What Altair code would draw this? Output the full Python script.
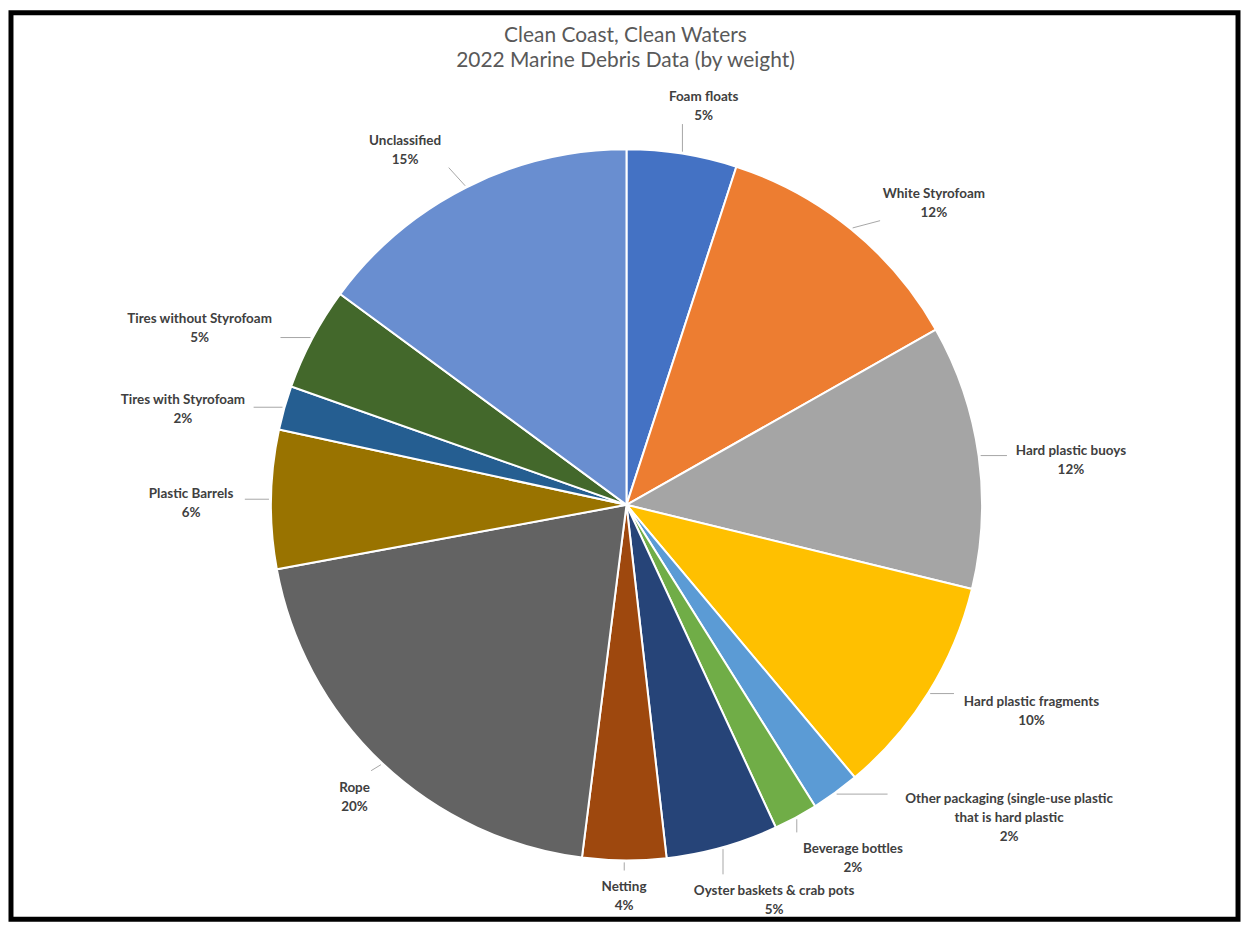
import math
import textwrap
import altair as alt
import pandas as pd

# ---------------- data ----------------
TITLE_LINES = ["Clean Coast, Clean Waters", "2022 Marine Debris Data (by weight)"]

CATEGORIES = [
    "Foam floats",
    "White Styrofoam",
    "Hard plastic buoys",
    "Hard plastic fragments",
    "Other packaging (single-use plastic that is hard plastic",
    "Beverage bottles",
    "Oyster baskets & crab pots",
    "Netting",
    "Rope",
    "Plastic Barrels",
    "Tires with Styrofoam",
    "Tires without Styrofoam",
    "Unclassified",
]
VALUES = [5.0, 11.8, 12.0, 10.1, 2.2, 2.0, 5.1, 3.8, 20.1, 6.3, 2.0, 4.7, 14.9]
COLORS = ["#4472C4", "#ED7D31", "#A5A5A5", "#FFC000", "#5B9BD5", "#70AD47",
          "#264478", "#9E480E", "#636363", "#997300", "#255E91", "#43682B", "#698ED0"]

# ---------------- layout constants ----------------
W, H = 1232, 910          # plot area
CX, CY = 618, 494         # pie centre inside plot area
R = 357                   # pie radius
CHAR_W = 6.8              # estimated label char width
LINE_H = 19               # label line height
SPREAD = 6                # degrees labels lean toward the sides

total = sum(VALUES)
mids = []
acc = 0.0
for v in VALUES:
    mids.append((acc + v / 2) / total * 360.0)
    acc += v

label_lines = []
for c, v in zip(CATEGORIES, VALUES):
    label_lines.append(textwrap.wrap(c, 35) + [f"{round(v / total * 100)}%"])
half_w = [max(len(s) for s in ls) * CHAR_W / 2 for ls in label_lines]
half_h = [len(ls) * LINE_H / 2 for ls in label_lines]


def centre(theta, a, b):
    t = math.radians(theta)
    s, c = math.sin(t), math.cos(t)
    gap = 386 - 16 * max(0.0, -c)      # distance from centre to label's near edge
    r = gap + a * abs(s) + b * abs(c)
    return r * s, -r * c      # dx right, dy down


def overlap(p, q, m=3):
    return not (p[2] + m < q[0] or q[2] + m < p[0] or p[3] + m < q[1] or q[3] + m < p[1])


n = len(VALUES)
boxes = [None] * n
centres = [None] * n
right = sorted([i for i in range(n) if mids[i] < 180], key=lambda i: -mids[i])
left = sorted([i for i in range(n) if mids[i] >= 180], key=lambda i: mids[i])
placed = []
for order, step in ((right, -0.5), (left, 0.5)):
    for i in order:
        th = mids[i]
        if math.cos(math.radians(th)) > -0.6:
            th += SPREAD * math.sin(math.radians(2 * th))
        for _ in range(300):
            x, y = centre(th, half_w[i], half_h[i])
            box = (x - half_w[i], y - half_h[i], x + half_w[i], y + half_h[i])
            ok = (box[3] <= H - CY - 4 and box[1] >= -CY + 62 and
                  box[0] >= -CX + 12 and box[2] <= W - CX - 12 and
                  not any(overlap(box, p) for p in placed))
            if ok:
                break
            th += step
        placed.append(box)
        boxes[i] = box
        centres[i] = (x, y)

# leader lines: from pie edge at slice middle to nearest point of label box
lead_rows = []
for i in range(n):
    t = math.radians(mids[i])
    px, py = (R + 2) * math.sin(t), -(R + 2) * math.cos(t)
    bx0, by0, bx1, by1 = boxes[i]
    qx = min(max(px, bx0 - 3), bx1 + 3)
    qy = min(max(py, by0 - 3), by1 + 3)
    lead_rows.append({"x": px, "y": -py, "x2": qx, "y2": -qy})

pie_df = pd.DataFrame({"category": CATEGORIES, "value": VALUES, "idx": list(range(n))})
lab_df = pd.DataFrame({
    "category": CATEGORIES,
    "label": ["\n".join(ls) for ls in label_lines],
    "x": [c[0] for c in centres],
    "y": [-c[1] for c in centres],
})
lead_df = pd.DataFrame(lead_rows)

xs = alt.Scale(domain=[-CX, W - CX], nice=False, zero=False)
ys = alt.Scale(domain=[-(H - CY), CY], nice=False, zero=False)

pie = alt.Chart(pie_df).mark_arc(stroke="white", strokeWidth=2).encode(
    theta=alt.Theta("value:Q", stack=True),
    order=alt.Order("idx:Q"),
    color=alt.Color("category:N", scale=alt.Scale(domain=CATEGORIES, range=COLORS), legend=None),
    radius=alt.value(R),
    x=alt.value(CX),
    y=alt.value(CY),
)

leaders = alt.Chart(lead_df).mark_rule(color="#A6A6A6", strokeWidth=1).encode(
    x=alt.X("x:Q", scale=xs, axis=None),
    y=alt.Y("y:Q", scale=ys, axis=None),
    x2="x2:Q",
    y2="y2:Q",
)

labels = alt.Chart(lab_df).mark_text(
    lineBreak="\n", align="center", baseline="middle", font="Lato",
    fontWeight="bold", fontSize=13.5, color="#404040", lineHeight=LINE_H, dy=-5,
).encode(
    x=alt.X("x:Q", scale=xs, axis=None),
    y=alt.Y("y:Q", scale=ys, axis=None),
    text="label:N",
)

title_df1 = pd.DataFrame({"t": [TITLE_LINES[0]]})
title_df2 = pd.DataFrame({"t": [TITLE_LINES[1]]})
t1 = alt.Chart(title_df1).mark_text(
    font="Lato", fontSize=21, color="#595959", align="center", baseline="alphabetic"
).encode(text="t:N", x=alt.value(CX - 1), y=alt.value(29))
t2 = alt.Chart(title_df2).mark_text(
    font="Lato", fontSize=21, color="#595959", align="center", baseline="alphabetic"
).encode(text="t:N", x=alt.value(CX - 1), y=alt.value(54))

chart = alt.layer(pie, leaders, labels, t1, t2).properties(
    width=W, height=H,
    padding={"left": 3, "top": 3, "right": 3, "bottom": 3},
    autosize=alt.AutoSizeParams(type="none"),
    background="white",
).configure_view(stroke="black", strokeWidth=5)

chart.save("out.html", embed_options={"renderer": "svg", "actions": False})
